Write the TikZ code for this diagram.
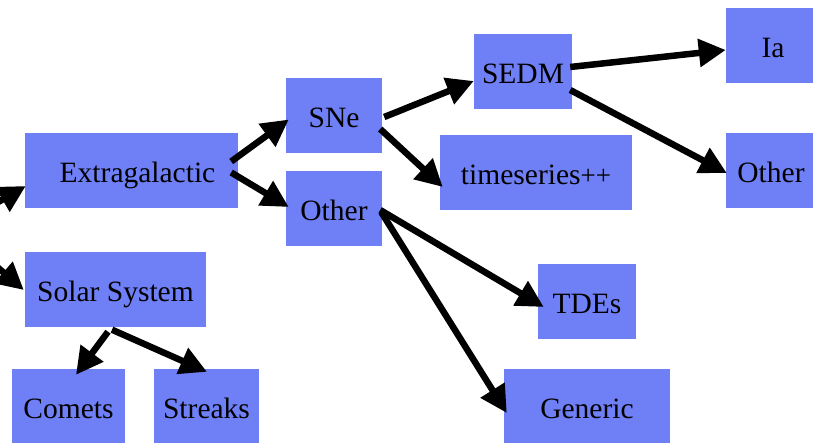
\documentclass[tikz,border=0pt]{standalone}
\usepackage{fontspec}
\setmainfont{Liberation Serif}
\usetikzlibrary{arrows.meta,calc}
\definecolor{boxblue}{RGB}{111,127,246}
\tikzset{
  box/.style={fill=boxblue, draw=none, inner sep=0pt, minimum height=75pt,
    text height=30pt, text depth=6pt, font=\fontsize{29.5}{34}\selectfont, text=black},
  arr/.style={line width=6.5pt, -{Triangle[length=27pt,width=27pt]}, draw=black}
}
\begin{document}
\begin{tikzpicture}[x=1pt,y=-1pt]
\useasboundingbox (0,0) rectangle (813,442);
\clip (0,0) rectangle (813,442);
% nodes
\node[box, minimum width=213pt] (ext) at (131.5,170.5) {\hspace*{12pt}Extragalactic};
\node[box, minimum width=181pt] (sol) at (115.5,289) {Solar System};
\node[box, minimum width=113pt] (com) at (68.5,406.5) {Comets};
\node[box, minimum width=105pt] (str) at (206.5,406.5) {Streaks};
\node[box, minimum width=96pt] (sne) at (334,115.5) {SNe};
\node[box, minimum width=96pt] (oth) at (334,208) {Other};
\node[box, minimum width=98pt] (sedm) at (523,71) {SEDM};
\node[box, minimum width=192pt] (ts) at (536,172) {timeseries{\fontsize{27}{30}\selectfont ++}};
\node[box, minimum width=94pt] (ia) at (773,45) {Ia};
\node[box, minimum width=90pt] (oth2) at (771,170.5) {Other};
\node[box, minimum width=98pt] (tde) at (587,301.5) {TDEs};
\node[box, minimum width=166pt] (gen) at (587,406.5) {Generic};
\coordinate (p1) at (-50,230);
\coordinate (p2) at (-40,235);
% connectors
\draw[arr] (p1) -- ($(ext.west)+(1,15.5)$);
\draw[arr] (p2) -- ($(sol.west)+(-1,1)$);
\draw[arr] ($(ext.east)+(-7,-9)$) -- ($(sne.west)+(3,4)$);
\draw[arr] ($(ext.east)+(-7,2)$) -- ($(oth.west)+(3,-1)$);
\draw[arr] ($(sne.east)+(2,1.5)$) -- ($(sedm.west)+(0,10)$);
\draw[arr] ($(sne.east)+(-2,13.5)$) -- ($(ts.west)+(3,15)$);
\draw[arr] ($(sedm.east)+(-2,-4)$) -- ($(ia.west)+(0,5)$);
\draw[arr] ($(sedm.east)+(-2,19)$) -- ($(oth2.west)+(1,2.5)$);
\draw[arr] ($(oth.east)+(-2,2)$) -- ($(tde.west)+(6,5.5)$);
\draw[arr] ($(oth.east)+(-1,4)$) -- ($(gen.west)+(3,6.5)$);
\draw[arr] ($(sol.south)+(-7.5,5)$) -- ($(com.north)+(7.5,6)$);
\draw[arr] ($(sol.south)+(-3.5,3)$) -- ($(str.north)+(0.5,3)$);
\end{tikzpicture}
\end{document}
